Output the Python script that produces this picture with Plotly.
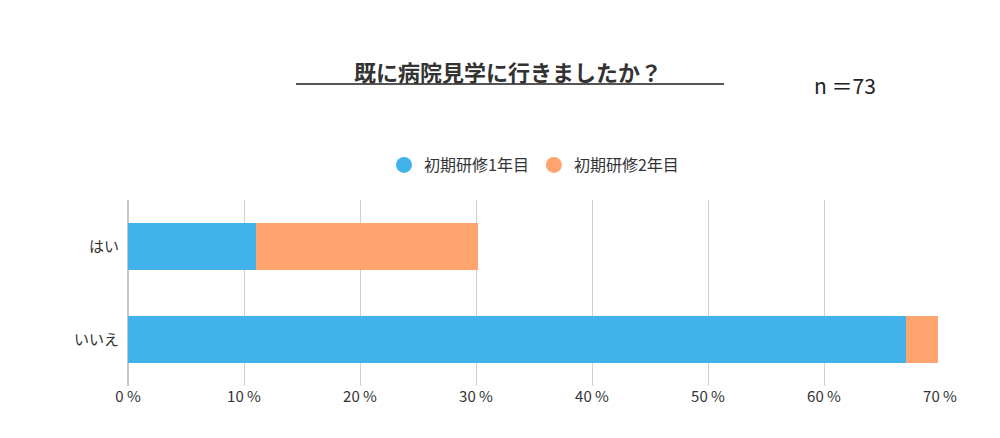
import plotly.graph_objects as go

categories = ["はい", "いいえ"]
year1 = [11.0, 67.1]
year2 = [19.2, 2.7]
series_names = ["初期研修1年目", "初期研修2年目"]
colors = ["#42B3EA", "#FFA46E"]
tick_vals = [0, 10, 20, 30, 40, 50, 60, 70]
tick_text = ["0 %", "10 %", "20 %", "30 %", "40 %", "50 %", "60 %", "70 %"]

font = "Noto Sans CJK JP"
W, H = 1000, 438
pl, pr, pt, pb = 120, 932, 192, 378
def px(x): return (x - pl) / (pr - pl)
def py(y): return (pb - y) / (pb - pt)

fig = go.Figure()
for vals, name, c in zip([year1, year2], series_names, colors):
    fig.add_bar(y=categories, x=vals, orientation="h", name=name, marker_color=c,
                marker_line_width=0, showlegend=False)
for name, c in zip(series_names, colors):
    fig.add_scatter(x=[None], y=[None], mode="markers", name=name,
                    marker=dict(symbol="circle", size=18, color=c))
fig.update_layout(
    width=W, height=H, barmode="stack", bargap=0.49,
    paper_bgcolor="white", plot_bgcolor="white",
    margin=dict(l=120, r=68, t=192, b=60, autoexpand=False),
    font=dict(family=font, size=15, color="#333"),
    showlegend=True,
    legend=dict(orientation="h", x=0.5, xanchor="center", y=py(157), yanchor="middle",
                font=dict(size=16), traceorder="normal", itemwidth=30),
    xaxis=dict(range=[0, 70], tickvals=tick_vals, ticktext=tick_text, showgrid=True,
               gridcolor="#d0d0d0", zeroline=True, zerolinecolor="#c8c8c8", showline=False,
               tickfont=dict(size=15, color="#333")),
    yaxis=dict(categoryorder="array", categoryarray=categories, autorange="reversed",
               ticks="", ticklabelstandoff=8, tickfont=dict(size=15, color="#333")),
)
fig.add_annotation(text="<b>既に病院見学に行きましたか？</b>", x=px(500), y=py(45), xref="paper", yref="paper",
                   showarrow=False, font=dict(size=22, color="#333"))
fig.add_annotation(text="n ＝73", x=px(870), y=py(60), xref="paper", yref="paper",
                   showarrow=False, font=dict(size=21, color="#222"))
fig.add_shape(type="line", x0=px(288), x1=px(716), y0=py(76), y1=py(76), xref="paper", yref="paper",
              line=dict(color="#555", width=2))
fig.write_html("out.html")
